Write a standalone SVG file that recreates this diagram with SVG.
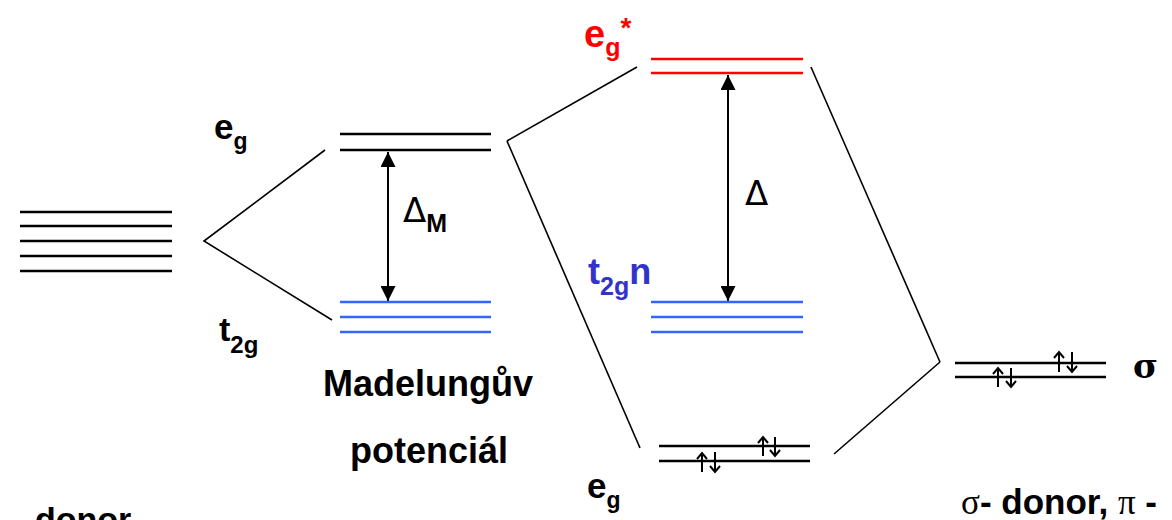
<svg xmlns="http://www.w3.org/2000/svg" width="1172" height="520" viewBox="0 0 1172 520">
<defs>
<style>
.lvl{stroke-width:2.5;fill:none}
.k{stroke:#000}
.b{stroke:#3366ff}
.r{stroke:#ff0000}
.con{stroke:#000;stroke-width:1.6;fill:none}
.arr{stroke:#000;stroke-width:2;fill:none}
.spin{stroke:#000;stroke-width:2;fill:none}
.t{font-family:"Liberation Sans",Arial,sans-serif;font-weight:bold;fill:#000}
.sym{font-family:"Liberation Serif","Times New Roman",serif;font-weight:normal;fill:#000}
</style>
<marker id="ah" viewBox="0 0 10 10" refX="10" refY="5" markerWidth="15" markerHeight="15" markerUnits="userSpaceOnUse" orient="auto-start-reverse">
<path d="M0,0 L10,5 L0,10 Z" fill="#000"/>
</marker>
</defs>
<rect width="1172" height="520" fill="#fff"/>

<g id="connectors">
<polyline class="con" points="325,150 204,241 332,320"/>
<line class="con" x1="507" y1="141" x2="637" y2="67"/>
<line class="con" x1="507" y1="141" x2="640" y2="448"/>
<line class="con" x1="811" y1="67" x2="940" y2="362"/>
<line class="con" x1="834" y1="454" x2="940" y2="362"/>
<line class="arr" x1="388" y1="152" x2="388" y2="301" marker-start="url(#ah)" marker-end="url(#ah)"/>
<line class="arr" x1="728" y1="75" x2="728" y2="301" marker-start="url(#ah)" marker-end="url(#ah)"/>
</g>

<g id="free-ion">
<line class="lvl k" x1="20" y1="212" x2="172" y2="212"/>
<line class="lvl k" x1="20" y1="226" x2="172" y2="226"/>
<line class="lvl k" x1="20" y1="241" x2="172" y2="241"/>
<line class="lvl k" x1="20" y1="256" x2="172" y2="256"/>
<line class="lvl k" x1="20" y1="271" x2="172" y2="271"/>
</g>

<g id="madelung-eg">
<line class="lvl k" x1="340" y1="134" x2="491" y2="134"/>
<line class="lvl k" x1="340" y1="150" x2="491" y2="150"/>
<text class="t" x="214" y="139" font-size="35">e<tspan font-size="23" dy="10">g</tspan></text>
</g>

<g id="madelung-t2g">
<line class="lvl b" x1="340" y1="302" x2="491" y2="302"/>
<line class="lvl b" x1="340" y1="317" x2="491" y2="317"/>
<line class="lvl b" x1="340" y1="332" x2="491" y2="332"/>
<text class="t" x="219" y="341" font-size="34">t<tspan font-size="24" dy="12">2g</tspan></text>
</g>

<g id="delta-m">
<text x="403" y="222" font-size="34" font-family="'DejaVu Sans','Liberation Sans',sans-serif">Δ<tspan class="t" font-size="25" dy="10" font-family="'Liberation Sans',Arial,sans-serif" font-weight="bold">M</tspan></text>
</g>

<g id="madelung-label">
<text class="t" x="428" y="396" font-size="36" text-anchor="middle">Madelungův</text>
<text class="t" x="429" y="463" font-size="36" text-anchor="middle">potenciál</text>
</g>

<g id="eg-star">
<line class="lvl r" x1="651" y1="59" x2="803" y2="59"/>
<line class="lvl r" x1="651" y1="73" x2="803" y2="73"/>
<text class="t" x="584" y="47" font-size="38" style="fill:#ff0000">e<tspan font-size="25" dy="9">g</tspan><tspan font-size="28" dy="-19">*</tspan></text>
</g>

<g id="delta">
<text x="745" y="205" font-size="34" font-family="'DejaVu Sans','Liberation Sans',sans-serif">Δ</text>
</g>

<g id="t2gn">
<line class="lvl b" x1="651" y1="302" x2="803" y2="302"/>
<line class="lvl b" x1="651" y1="317" x2="803" y2="317"/>
<line class="lvl b" x1="651" y1="332" x2="803" y2="332"/>
<text class="t" x="588" y="284" font-size="36" style="fill:#3333cc">t<tspan font-size="25" dy="11">2g</tspan><tspan dy="-11">n</tspan></text>
</g>

<g id="eg-bonding">
<line class="lvl k" x1="659" y1="446" x2="810" y2="446"/>
<line class="lvl k" x1="659" y1="461" x2="810" y2="461"/>
<path class="spin" d="M702,472 V453 M697,459 L702,453 L707,459 M715,452 V472 M710,466 L715,472 L720,466"/>
<path class="spin" d="M763,456 V437 M758,443 L763,437 L768,443 M775,437 V456 M770,450 L775,456 L780,450"/>
<text class="t" x="587" y="498" font-size="35">e<tspan font-size="23" dy="10">g</tspan></text>
</g>

<g id="sigma">
<line class="lvl k" x1="955" y1="363" x2="1106" y2="363"/>
<line class="lvl k" x1="955" y1="377" x2="1106" y2="377"/>
<path class="spin" d="M998,387 V368 M993,374 L998,368 L1003,374 M1011,368 V387 M1006,381 L1011,387 L1016,381"/>
<path class="spin" d="M1059,372 V352 M1054,358 L1059,352 L1064,358 M1072,352 V372 M1067,366 L1072,372 L1077,366"/>
<text x="1133" y="378" font-size="34" font-family="'DejaVu Serif','Liberation Serif',serif" font-weight="bold">σ</text>
</g>

<g id="ligand-labels">
<text x="961" y="514" font-size="35"><tspan class="sym">σ</tspan><tspan class="t">- donor, </tspan><tspan class="sym">π</tspan><tspan class="t"> -</tspan></text>
<text class="t" x="35" y="531" font-size="34">donor</text>
</g>
</svg>
